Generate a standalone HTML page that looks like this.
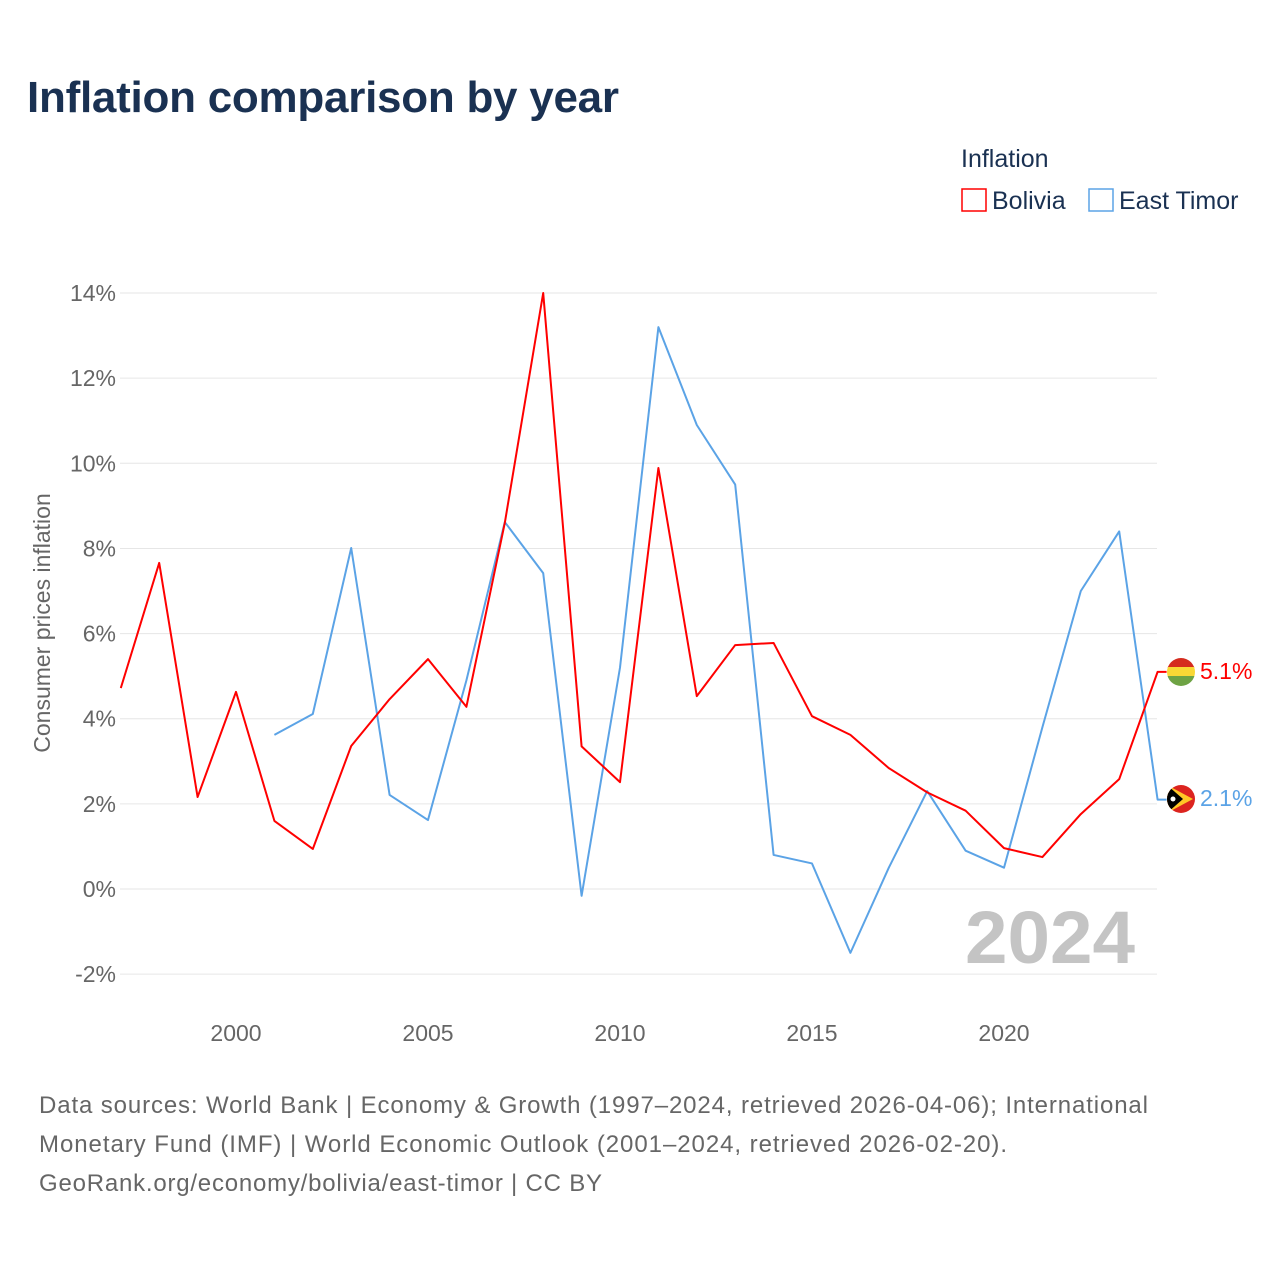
<!DOCTYPE html>
<html><head><meta charset="utf-8"><style>
html,body{margin:0;padding:0;background:#fff;}
svg text{font-family:"Liberation Sans",sans-serif;}
</style></head><body>
<svg id="c" width="1280" height="1280" xmlns="http://www.w3.org/2000/svg">
<text x="27" y="112" font-size="44" font-weight="bold" fill="#1a3152" textLength="592">Inflation comparison by year</text>
<text x="961" y="167" font-size="25" fill="#1a3152">Inflation</text>
<g><rect x="962" y="189" width="24" height="22" fill="none" stroke="#ff0000" stroke-width="1.5"/><text x="992" y="209" font-size="25" fill="#1a3152">Bolivia</text></g>
<g><rect x="1089" y="189" width="24" height="22" fill="none" stroke="#5ba3e6" stroke-width="1.5"/><text x="1119" y="209" font-size="25" fill="#1a3152">East Timor</text></g>
<g id="grid"></g>
<text transform="translate(50,623) rotate(-90)" text-anchor="middle" font-size="23" fill="#666">Consumer prices inflation</text>
<text x="965" y="963" font-size="74" font-weight="bold" fill="#c4c4c4" textLength="170" lengthAdjust="spacingAndGlyphs">2024</text>
<g id="series"></g>
<g>
<clipPath id="cb"><circle cx="1181" cy="672" r="14"/></clipPath>
<g clip-path="url(#cb)"><rect x="1167" y="658" width="28" height="10" fill="#d52b1e"/><rect x="1167" y="667" width="28" height="10" fill="#f9d835"/><rect x="1167" y="676" width="28" height="10" fill="#6ea344"/></g></g>
<g>
<clipPath id="ce"><circle cx="1181" cy="799" r="14"/></clipPath>
<g clip-path="url(#ce)"><rect x="1167" y="785" width="28" height="28" fill="#dc241f"/><polygon points="1167,785 1193,799 1167,813" fill="#ffc726"/><polygon points="1167,785 1183,799 1167,813" fill="#000"/><circle cx="1173" cy="799" r="2.5" fill="#fff"/></g></g>
<text x="1200" y="679" font-size="23" fill="#ff0000">5.1%</text>
<text x="1200" y="806" font-size="23" fill="#5ba3e6">2.1%</text>
<g font-size="24" fill="#666">
<text x="39" y="1113" textLength="1109">Data sources: World Bank | Economy &amp; Growth (1997–2024, retrieved 2026-04-06); International</text>
<text x="39" y="1152" textLength="968">Monetary Fund (IMF) | World Economic Outlook (2001–2024, retrieved 2026-02-20).</text>
<text x="39" y="1191" textLength="563">GeoRank.org/economy/bolivia/east-timor | CC BY</text>
</g>
</svg>
<script>
const boliviaYears=[1997,1998,1999,2000,2001,2002,2003,2004,2005,2006,2007,2008,2009,2010,2011,2012,2013,2014,2015,2016,2017,2018,2019,2020,2021,2022,2023,2024];
const boliviaValues=[4.72,7.66,2.16,4.63,1.60,0.94,3.36,4.46,5.40,4.28,8.60,14.0,3.35,2.51,9.89,4.53,5.73,5.78,4.06,3.62,2.84,2.27,1.84,0.96,0.75,1.76,2.58,5.1];
const timorYears=[2001,2002,2003,2004,2005,2006,2007,2008,2009,2010,2011,2012,2013,2014,2015,2016,2017,2018,2019,2020,2021,2022,2023,2024];
const timorValues=[3.62,4.11,8.01,2.21,1.62,4.9,8.62,7.42,-0.16,5.2,13.2,10.9,9.5,0.8,0.6,-1.5,0.5,2.3,0.9,0.5,3.8,7.0,8.4,2.1];
const yTicks=[-2,0,2,4,6,8,10,12,14];
const xTicks=[2000,2005,2010,2015,2020];
const NS="http://www.w3.org/2000/svg";
const xS=y=>236+(y-2000)*38.4;
const yS=v=>889-v*42.57;
const grid=document.getElementById('grid');
yTicks.forEach(t=>{
 const l=document.createElementNS(NS,'line');
 l.setAttribute('x1',120);l.setAttribute('x2',1157);l.setAttribute('y1',yS(t));l.setAttribute('y2',yS(t));
 l.setAttribute('stroke','#e6e6e6');l.setAttribute('stroke-width',1);
 
 
 grid.appendChild(l);
 const tx=document.createElementNS(NS,'text');
 tx.setAttribute('x',116);tx.setAttribute('y',yS(t)+8);tx.setAttribute('text-anchor','end');
 tx.setAttribute('font-size',23);tx.setAttribute('fill','#666');tx.textContent=t+'%';
 
 
 grid.appendChild(tx);
});
xTicks.forEach(t=>{
 const tx=document.createElementNS(NS,'text');
 tx.setAttribute('x',xS(t));tx.setAttribute('y',1041);tx.setAttribute('text-anchor','middle');
 tx.setAttribute('font-size',23);tx.setAttribute('fill','#666');tx.textContent=t;
 
 
 grid.appendChild(tx);
});
const ser=document.getElementById('series');
function line(years,vals,color,name){
 let pts=years.map((y,i)=>xS(y)+','+yS(vals[i]));
 const last=vals[vals.length-1];
 pts.push((xS(years[years.length-1])+9)+','+yS(last));
 const p=document.createElementNS(NS,'polyline');
 p.setAttribute('points',pts.join(' '));p.setAttribute('fill','none');
 p.setAttribute('stroke',color);p.setAttribute('stroke-width',2);p.setAttribute('stroke-linejoin','round');
 
 
 ser.appendChild(p);
}
line(timorYears,timorValues,'#5ba3e6','east-timor-line');
line(boliviaYears,boliviaValues,'#ff0000','bolivia-line');
</script>
</body></html>
